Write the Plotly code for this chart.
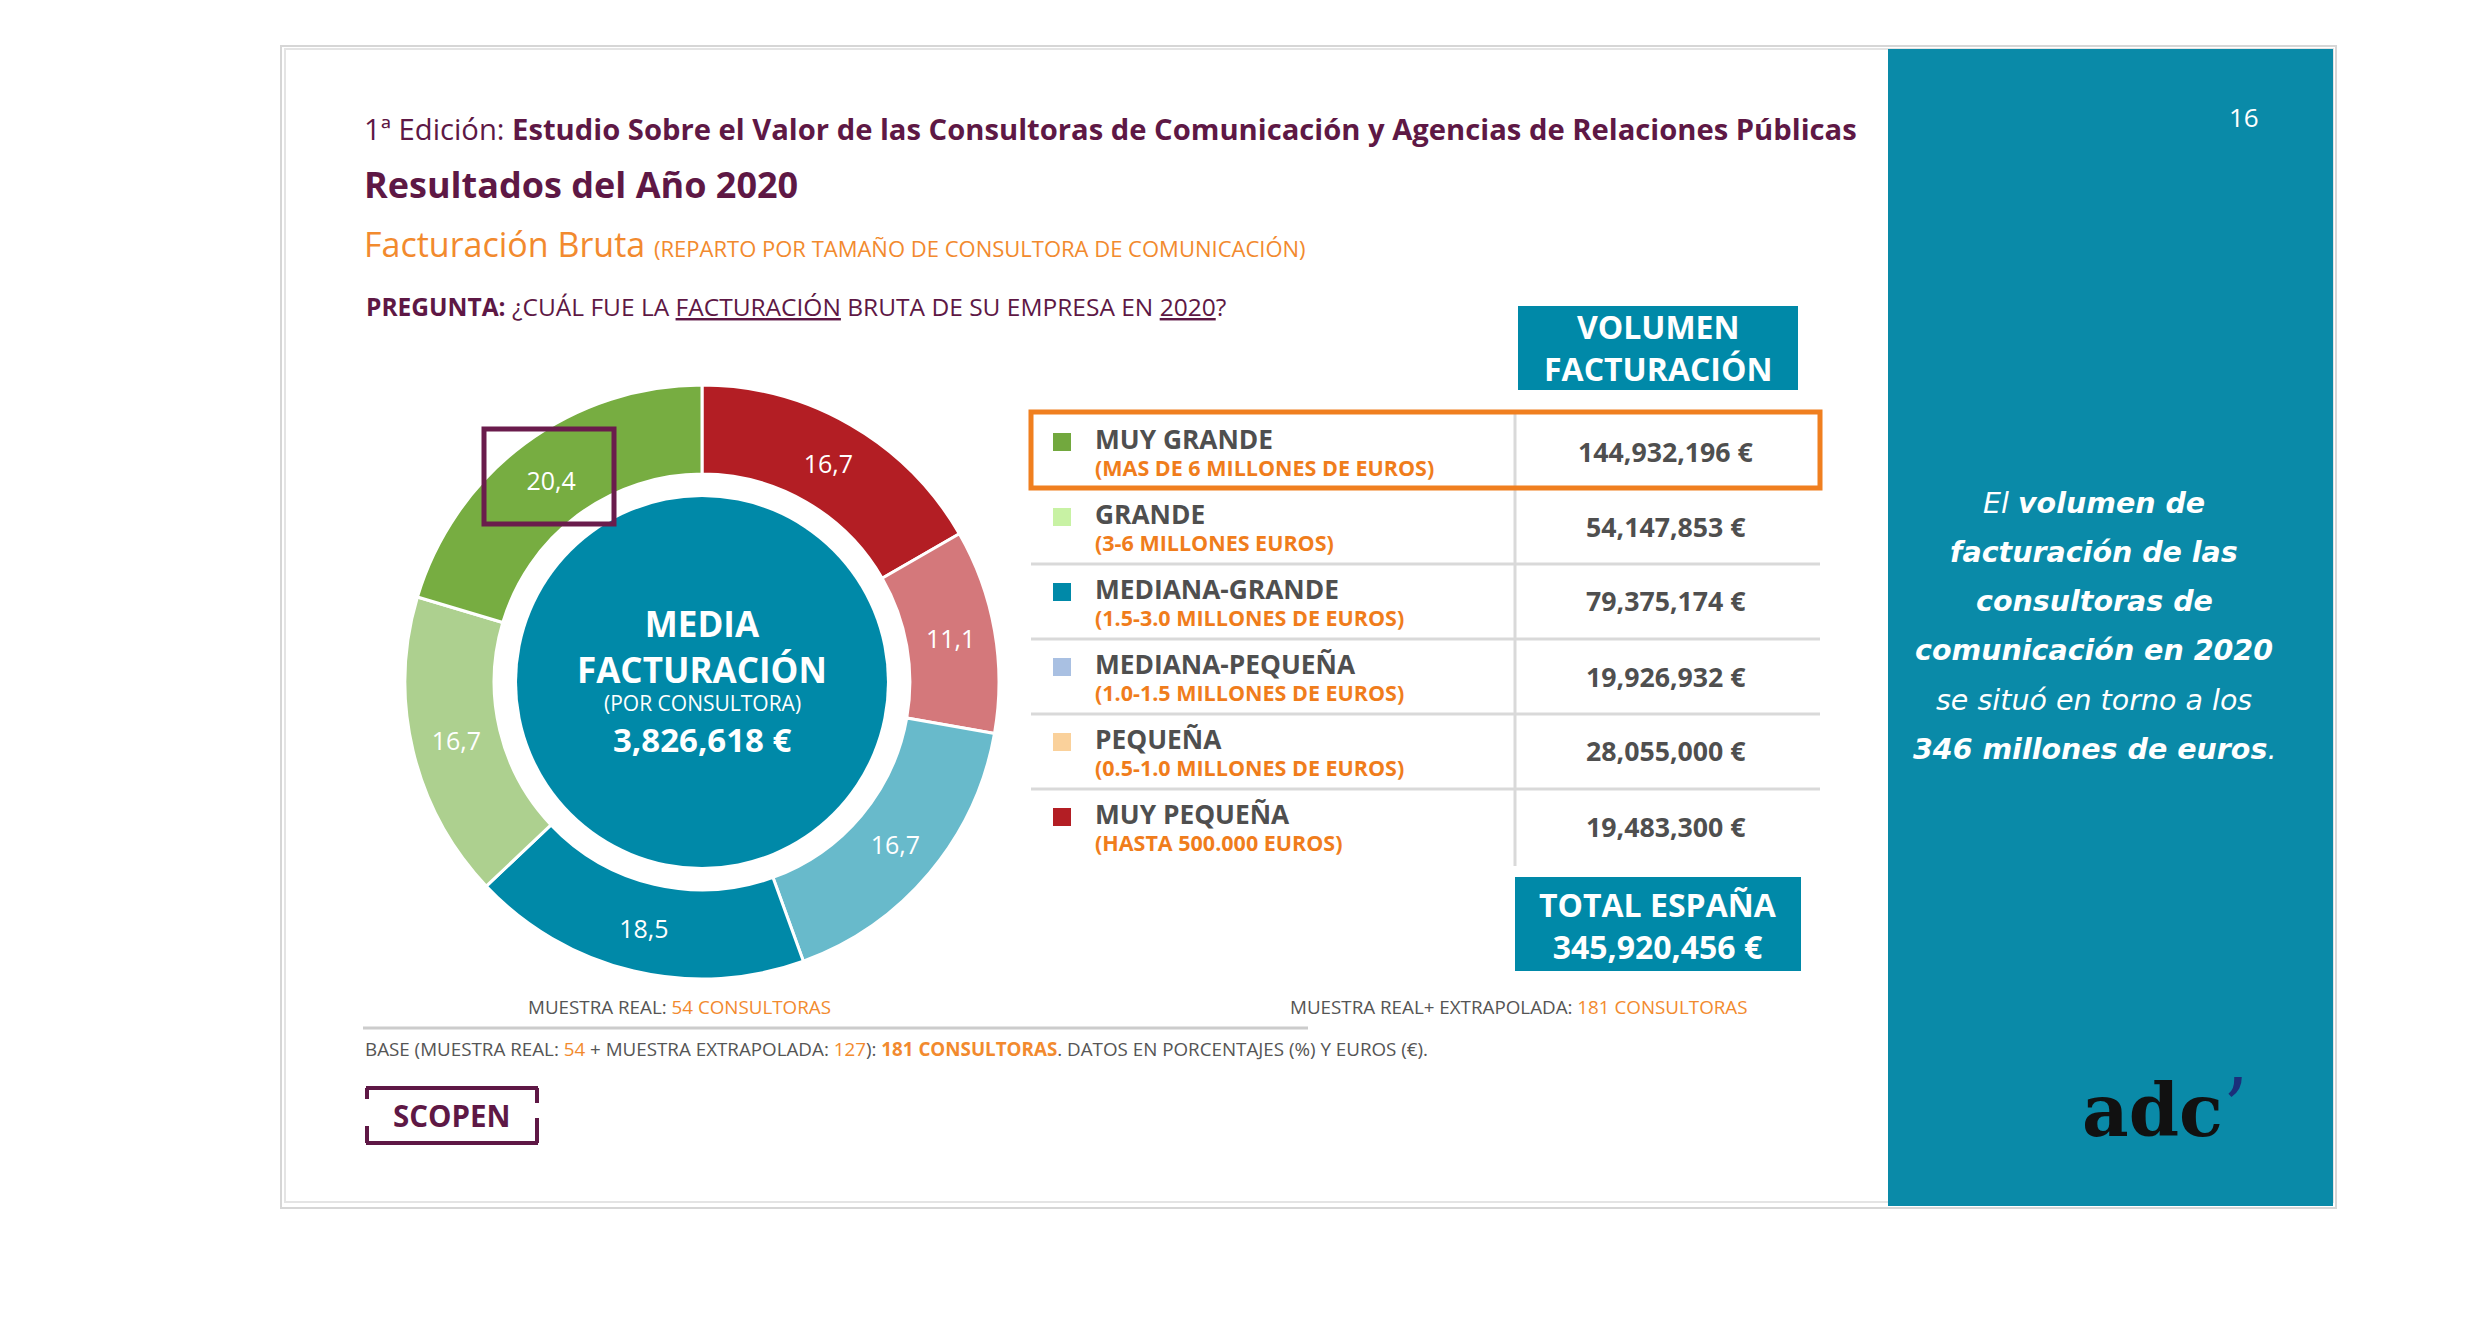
import plotly.graph_objects as go

W, H = 2488, 1336
OFF = 8  # page body margin of the browser

# ---------------- data ----------------
categories = ["MUY GRANDE", "GRANDE", "MEDIANA-GRANDE", "MEDIANA-PEQUEÑA", "PEQUEÑA", "MUY PEQUEÑA"]
ranges = ["(MAS DE 6 MILLONES DE EUROS)", "(3-6 MILLONES EUROS)", "(1.5-3.0 MILLONES DE EUROS)",
          "(1.0-1.5 MILLONES DE EUROS)", "(0.5-1.0 MILLONES DE EUROS)", "(HASTA 500.000 EUROS)"]
shares = [20.4, 16.7, 18.5, 16.7, 11.1, 16.7]
volumes = [144932196, 54147853, 79375174, 19926932, 28055000, 19483300]
total_spain = 345920456
media = 3826618
pie_colors = ["#77AD41", "#ADD08F", "#0089A8", "#68BACB", "#D4787B", "#B31E24"]
legend_colors = ["#72A83E", "#C8F2A4", "#0089A8", "#A9C0E2", "#FAD19B", "#B31E24"]

PURPLE = "#5E1845"
ORANGE = "#F28A2E"
TEAL = "#0089A8"
GRAY = "#4F4F4F"
FONT = "Open Sans"


def px(x):
    return (x - OFF) / W


def py(y):
    return 1 - (y - OFF) / H


shapes = []
ann = []


def rect(x0, y0, x1, y1, fill=None, line=None, lw=0, layer="above"):
    shapes.append(dict(type="rect", xref="paper", yref="paper", x0=px(x0), x1=px(x1),
                       y0=py(y0), y1=py(y1), fillcolor=fill or "rgba(0,0,0,0)",
                       line=dict(color=line or "rgba(0,0,0,0)", width=lw), layer=layer))


def line(x0, y0, x1, y1, color, lw, layer="above"):
    shapes.append(dict(type="line", xref="paper", yref="paper", x0=px(x0), x1=px(x1),
                       y0=py(y0), y1=py(y1), line=dict(color=color, width=lw), layer=layer))


def text(x, y, s, size, color, xanchor="center", family=FONT):
    ann.append(dict(xref="paper", yref="paper", x=px(x), y=py(y), text=s, showarrow=False,
                    xanchor=xanchor, yanchor="middle", font=dict(family=family, size=size, color=color)))


# ---------------- slide frame ----------------
rect(281, 46, 2336, 1208, line="#D6D6D6", lw=2, layer="below")
rect(285, 49, 2333, 1202, line="#E4E4E4", lw=2, layer="below")
rect(1888, 49, 2333, 1206, fill="#0A8AA8", layer="below")

# ---------------- titles ----------------
text(362, 129, "1ª Edición: <b>Estudio Sobre el Valor de las Consultoras de Comunicación y Agencias de Relaciones Públicas</b>",
     29.2, PURPLE, xanchor="left")
text(362, 184, "<b>Resultados del Año 2020</b>", 36, PURPLE, xanchor="left")
text(362, 244, "Facturación Bruta <span style='font-size:22px'>(REPARTO POR TAMAÑO DE CONSULTORA DE COMUNICACIÓN)</span>",
     34, ORANGE, xanchor="left")
text(364, 306, "<b>PREGUNTA:</b> ¿CUÁL FUE LA <u>FACTURACIÓN</u> BRUTA DE SU EMPRESA EN <u>2020</u>?",
     24.5, PURPLE, xanchor="left")

# ---------------- donut ----------------
cx, cy, R = 702, 682, 297
pie_vals = shares[::-1]
pie_cols = pie_colors[::-1]
pie_txt = [f"{v:.1f}".replace(".", ",") for v in pie_vals]

fig = go.Figure()
fig.add_trace(go.Pie(
    values=pie_vals, labels=categories[::-1], text=pie_txt, textinfo="text",
    sort=False, direction="clockwise", rotation=0, hole=0.70,
    marker=dict(colors=pie_cols, line=dict(color="white", width=3)),
    textfont=dict(family=FONT, size=25, color="white"),
    insidetextorientation="horizontal", textposition="inside",
    domain=dict(x=[px(cx - R), px(cx + R)], y=[py(cy + R), py(cy - R)]),
    showlegend=False, hoverinfo="skip"))

shapes.append(dict(type="circle", xref="paper", yref="paper", x0=px(cx - 185), x1=px(cx + 185),
                   y0=py(cy + 185), y1=py(cy - 185), fillcolor=TEAL, line=dict(width=0), layer="above"))
text(cx, 646, "<b>MEDIA<br>FACTURACIÓN</b>", 35, "white")
text(cx, 703, "(POR CONSULTORA)", 21, "white")
text(cx, 739, f"<b>{media:,} €</b>", 33, "white")

# highlight box on the 20,4 slice
rect(484, 429, 614, 524, line="#6A1C4C", lw=5)

# ---------------- table ----------------
rect(1518, 306, 1798, 390, fill=TEAL)
text(1658, 348, "<b>VOLUMEN<br>FACTURACIÓN</b>", 32, "white")

row_y = [451, 526, 601, 676, 751, 826]
line(1515, 413, 1515, 866, "#D9D9D9", 3)
for i, y in enumerate(row_y):
    if 1 <= i <= 4:
        line(1031, y + 38, 1820, y + 38, "#D9D9D9", 3)
    rect(1053, y - 18, 1071, y, fill=legend_colors[i])
    text(1093, y - 12, f"<b>{categories[i]}</b>", 26.3, GRAY, xanchor="left")
    text(1093, y + 16, f"<b>{ranges[i]}</b>", 21.5, "#F07D1C", xanchor="left")
    text(1666, y, f"<b>{volumes[i]:,} €</b>", 26.7, GRAY)

rect(1031, 412, 1820, 488, line="#F07F1F", lw=5)

rect(1515, 877, 1801, 971, fill=TEAL)
text(1658, 925, f"<b>TOTAL ESPAÑA<br>{total_spain:,} €</b>", 32, "white")

# ---------------- footer ----------------
text(679, 1007, f"MUESTRA REAL: <span style='color:{ORANGE}'>54 CONSULTORAS</span>", 18.8, "#555555")
text(1750, 1007, f"MUESTRA REAL+ EXTRAPOLADA: <span style='color:{ORANGE}'>181 CONSULTORAS</span>", 18.8, "#555555",
     xanchor="right")
line(363, 1028, 1308, 1028, "#CCCCCC", 3)
text(363, 1049, f"BASE (MUESTRA REAL: <span style='color:{ORANGE}'>54</span> + MUESTRA EXTRAPOLADA: "
     f"<span style='color:{ORANGE}'>127</span>): <b><span style='color:{ORANGE}'>181 CONSULTORAS</span></b>. "
     "DATOS EN PORCENTAJES (%) Y EUROS (€).", 18.8, "#555555", xanchor="left")

# SCOPEN bracket logo
line(366, 1088, 538, 1088, PURPLE, 4)
line(366, 1143, 538, 1143, PURPLE, 4)
line(367, 1088, 367, 1099, PURPLE, 4)
line(367, 1126, 367, 1143, PURPLE, 4)
line(537, 1088, 537, 1103, PURPLE, 4)
line(537, 1118, 537, 1143, PURPLE, 4)
text(452, 1115, "<b>SCOPEN</b>", 29.5, PURPLE)

# ---------------- right panel ----------------
text(2244, 117, "16", 26, "white")
panel_lines = [
    "<i>El </i><b><i>volumen de</i></b>",
    "<b><i>facturación de las</i></b>",
    "<b><i>consultoras de</i></b>",
    "<b><i>comunicación en 2020</i></b>",
    "<i>se situó en torno a los</i>",
    "<b><i>346 millones de euros</i></b><i>.</i>",
]
for i, s in enumerate(panel_lines):
    text(2094, 503 + i * 49.3, s, 28.5, "white", family="DejaVu Sans")
text(2165, 1108, "<b>adc</b><span style='color:#1B2F7A;font-size:80px'>’</span>", 72, "#111111",
     family="DejaVu Serif")

fig.update_layout(
    width=W, height=H, margin=dict(l=0, r=0, t=0, b=0),
    paper_bgcolor="white", plot_bgcolor="white",
    shapes=shapes, annotations=ann, showlegend=False,
)
fig.write_html("out.html")
